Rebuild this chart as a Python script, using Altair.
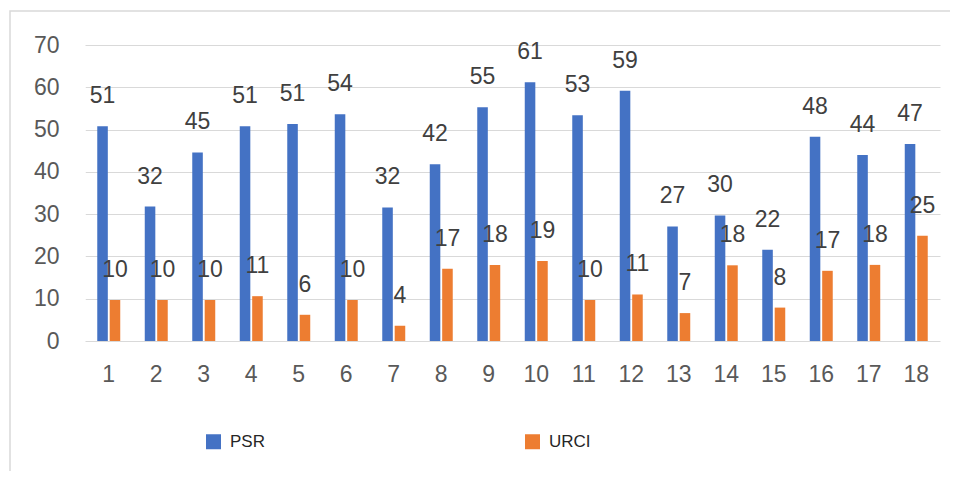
import altair as alt
import pandas as pd

categories = [str(i) for i in range(1, 19)]
psr = [50.8, 31.8, 44.6, 50.8, 51.3, 53.6, 31.6, 41.8, 55.3, 61.2, 53.4, 59.2, 27.1, 29.7, 21.6, 48.3, 44.0, 46.6]
urci = [9.7, 9.7, 9.7, 10.6, 6.2, 9.7, 3.6, 17.1, 18.0, 18.9, 9.7, 11.0, 6.6, 17.9, 7.9, 16.6, 18.0, 24.9]
series = ["PSR", "URCI"]
colors = ["#4472C4", "#ED7D31"]

rows = []
for i, c in enumerate(categories):
    rows.append({"cat": c, "series": "PSR", "value": psr[i]})
    rows.append({"cat": c, "series": "URCI", "value": urci[i]})
df = pd.DataFrame(rows)

FONT = "Liberation Sans"

x_enc = alt.X("cat:N", sort=categories, title=None,
              scale=alt.Scale(paddingInner=0.516, paddingOuter=0.258),
              axis=alt.Axis(labelAngle=0, labelFontSize=23, labelColor="#595959",
                            labelFont=FONT, ticks=False, domain=False, grid=False,
                            labelPadding=22))
y_enc = alt.Y("value:Q", title=None,
              scale=alt.Scale(domain=[0, 70], nice=False),
              axis=alt.Axis(values=[0, 10, 20, 30, 40, 50, 60, 70], labelFontSize=23,
                            labelColor="#595959", labelFont=FONT, ticks=False,
                            domain=False, grid=True, gridColor="#D9D9D9",
                            labelPadding=26))
xoff = alt.XOffset("series:N", sort=series, scale=alt.Scale(paddingInner=0.15))

bars = alt.Chart(df).mark_bar().encode(
    x=x_enc, y=y_enc, xOffset=xoff,
    color=alt.Color("series:N", sort=series,
                    scale=alt.Scale(domain=series, range=colors),
                    legend=alt.Legend(title=None, orient="none", legendX=120, legendY=388,
                                      direction="horizontal", symbolType="square",
                                      symbolSize=225, symbolStrokeWidth=0,
                                      labelFontSize=17, labelFont=FONT,
                                      labelColor="#262626", columnPadding=259,
                                      symbolOffset=0, labelOffset=8)),
)

labels = alt.Chart(df).mark_text(fontSize=23, font=FONT, color="#404040",
                                 baseline="middle", dy=-30).encode(
    x=x_enc, y=y_enc, xOffset=xoff,
    text=alt.Text("value:Q", format=".0f"),
)

border_data = pd.DataFrame({"k": [0]})
border = alt.Chart(border_data).mark_rect(
    fill="transparent", stroke="#D9D9D9", strokeWidth=1.5
).encode(
    x=alt.value(-75), x2=alt.value(1100), y=alt.value(-34), y2=alt.value(600))

cover = alt.Chart(border_data).mark_rule(color="white", strokeWidth=2).encode(
    x=alt.value(-0.5), y=alt.value(1), y2=alt.value(295))

chart = alt.layer(bars, labels, border, cover).properties(
    width=855, height=296,
    background="white",
    autosize=alt.AutoSizeParams(type="none"),
    padding={"left": 77, "top": 37, "right": 10, "bottom": 130},
).configure_view(
    stroke="transparent", strokeOpacity=0, strokeWidth=0
).configure_axis(
    domain=False, ticks=False
)

chart.save("out.html", embed_options={"renderer": "svg", "actions": False})
